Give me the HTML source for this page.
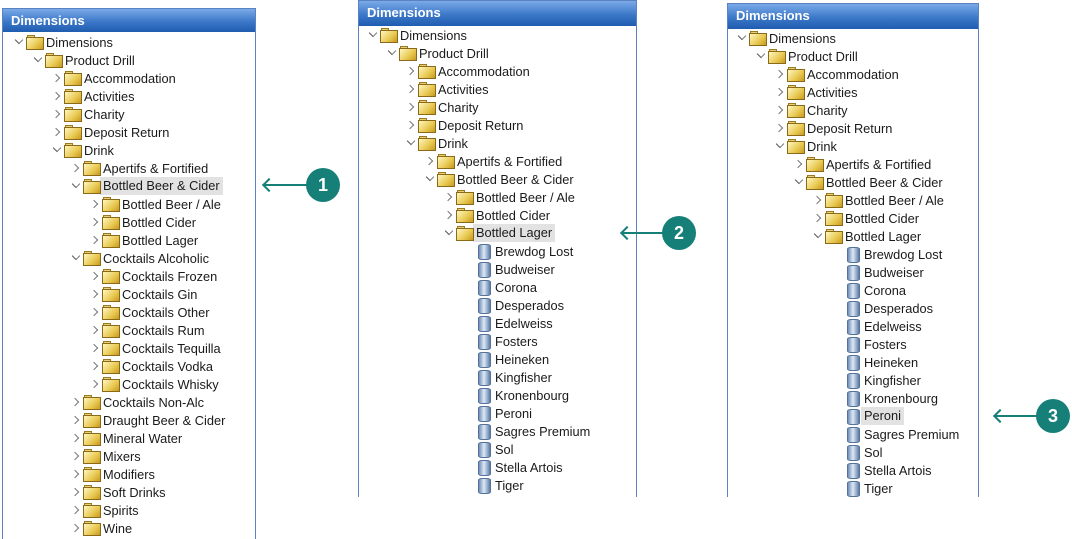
<!DOCTYPE html>
<html style="height:539px;overflow:hidden"><head><meta charset="utf-8"><style>
*{margin:0;padding:0;box-sizing:border-box}
body{width:1072px;height:539px;background:#fff;position:relative;overflow:hidden;font-family:"Liberation Sans",sans-serif}
.p{position:absolute;border:1px solid #5a82c0;background:#fff}
.h{height:100%;background:linear-gradient(#7aaae8,#3c78c8 55%,#1f5cb0);color:#fff;font-weight:bold;font-size:13px;padding-left:8px}
.c{position:absolute;left:0;top:0;width:100%;height:100%}
.r{position:absolute;height:18px;display:flex;align-items:center;font-size:12.8px;color:#1a1a1a;white-space:nowrap}
.r i{display:block;flex:none;position:relative}
.x{width:14px;height:18px}
.x:after{content:"";position:absolute;width:5px;height:5px;left:3px;top:6px;border-right:1.4px solid #777;border-top:1.4px solid #777;transform:rotate(45deg)}
.x.o:after{border-top:none;border-bottom:1.4px solid #555;transform:rotate(45deg);top:4px;left:4px}
.x.n:after{display:none}
.f{width:16px;height:18px;margin-right:4px}
.f:before{content:"";position:absolute;left:1px;top:2px;width:6px;height:3px;background:#e8d070;border:1px solid #9a7a20;border-bottom:none}
.f:after{content:"";position:absolute;left:0;top:4px;width:16px;height:11px;background:linear-gradient(135deg,#fff6c0,#e8c850 60%,#c89a20);border:1px solid #8a6a18}
.b{width:16px;height:18px;margin-right:4px}
.b:after{content:"";position:absolute;left:3px;top:2px;width:11px;height:14px;border-radius:4px/2px;background:linear-gradient(90deg,#6f8fb8,#dfe8f5 45%,#8aa6c8 80%,#5d7ba3);border:1px solid #56729a}
.hl{background:#e2e2e2;padding:0 3px;margin-left:-3px;line-height:18px}
.l0{left:12px}.l1{left:31px}.l2{left:50px}.l3{left:69px}.l4{left:88px}.l5{left:107px}
.ar{position:absolute;height:2px;background:#157f78}
.ah{position:absolute;width:10px;height:10px;border-left:2px solid #157f78;border-bottom:2px solid #157f78;transform:rotate(45deg)}
.ci{position:absolute;width:34px;height:34px;border-radius:50%;background:#157f78;color:#fff;font-weight:bold;font-size:18px;text-align:center;line-height:34px}
</style></head><body>

<div class="p" style="left:2px;top:8px;width:254px;height:531px;border-bottom:none"><div class="h" style="height:23px;line-height:23px">Dimensions</div></div>
<div class="p" style="left:358px;top:0;width:279px;height:497px;border-bottom:none"><div class="h" style="height:25px;line-height:24px">Dimensions</div></div>
<div class="p" style="left:727px;top:3px;width:252px;height:494px;border-bottom:none"><div class="h" style="height:25px;line-height:24px">Dimensions</div></div>

<div class="c" style="left:0;top:0">
<div class="r l0" style="top:33px"><i class="x o"></i><i class="f"></i>Dimensions</div>
<div class="r l1" style="top:51px"><i class="x o"></i><i class="f"></i>Product Drill</div>
<div class="r l2" style="top:69px"><i class="x"></i><i class="f"></i>Accommodation</div>
<div class="r l2" style="top:87px"><i class="x"></i><i class="f"></i>Activities</div>
<div class="r l2" style="top:105px"><i class="x"></i><i class="f"></i>Charity</div>
<div class="r l2" style="top:123px"><i class="x"></i><i class="f"></i>Deposit Return</div>
<div class="r l2" style="top:141px"><i class="x o"></i><i class="f"></i>Drink</div>
<div class="r l3" style="top:159px"><i class="x"></i><i class="f"></i>Apertifs &amp; Fortified</div>
<div class="r l3" style="top:177px"><i class="x o"></i><i class="f"></i><span class="hl">Bottled Beer &amp; Cider</span></div>
<div class="r l4" style="top:195px"><i class="x"></i><i class="f"></i>Bottled Beer / Ale</div>
<div class="r l4" style="top:213px"><i class="x"></i><i class="f"></i>Bottled Cider</div>
<div class="r l4" style="top:231px"><i class="x"></i><i class="f"></i>Bottled Lager</div>
<div class="r l3" style="top:249px"><i class="x o"></i><i class="f"></i>Cocktails Alcoholic</div>
<div class="r l4" style="top:267px"><i class="x"></i><i class="f"></i>Cocktails Frozen</div>
<div class="r l4" style="top:285px"><i class="x"></i><i class="f"></i>Cocktails Gin</div>
<div class="r l4" style="top:303px"><i class="x"></i><i class="f"></i>Cocktails Other</div>
<div class="r l4" style="top:321px"><i class="x"></i><i class="f"></i>Cocktails Rum</div>
<div class="r l4" style="top:339px"><i class="x"></i><i class="f"></i>Cocktails Tequilla</div>
<div class="r l4" style="top:357px"><i class="x"></i><i class="f"></i>Cocktails Vodka</div>
<div class="r l4" style="top:375px"><i class="x"></i><i class="f"></i>Cocktails Whisky</div>
<div class="r l3" style="top:393px"><i class="x"></i><i class="f"></i>Cocktails Non-Alc</div>
<div class="r l3" style="top:411px"><i class="x"></i><i class="f"></i>Draught Beer &amp; Cider</div>
<div class="r l3" style="top:429px"><i class="x"></i><i class="f"></i>Mineral Water</div>
<div class="r l3" style="top:447px"><i class="x"></i><i class="f"></i>Mixers</div>
<div class="r l3" style="top:465px"><i class="x"></i><i class="f"></i>Modifiers</div>
<div class="r l3" style="top:483px"><i class="x"></i><i class="f"></i>Soft Drinks</div>
<div class="r l3" style="top:501px"><i class="x"></i><i class="f"></i>Spirits</div>
<div class="r l3" style="top:519px"><i class="x"></i><i class="f"></i>Wine</div>
</div>

<div class="c" style="left:354px;top:-7px">
<div class="r l0" style="top:33px"><i class="x o"></i><i class="f"></i>Dimensions</div>
<div class="r l1" style="top:51px"><i class="x o"></i><i class="f"></i>Product Drill</div>
<div class="r l2" style="top:69px"><i class="x"></i><i class="f"></i>Accommodation</div>
<div class="r l2" style="top:87px"><i class="x"></i><i class="f"></i>Activities</div>
<div class="r l2" style="top:105px"><i class="x"></i><i class="f"></i>Charity</div>
<div class="r l2" style="top:123px"><i class="x"></i><i class="f"></i>Deposit Return</div>
<div class="r l2" style="top:141px"><i class="x o"></i><i class="f"></i>Drink</div>
<div class="r l3" style="top:159px"><i class="x"></i><i class="f"></i>Apertifs &amp; Fortified</div>
<div class="r l3" style="top:177px"><i class="x o"></i><i class="f"></i>Bottled Beer &amp; Cider</div>
<div class="r l4" style="top:195px"><i class="x"></i><i class="f"></i>Bottled Beer / Ale</div>
<div class="r l4" style="top:213px"><i class="x"></i><i class="f"></i>Bottled Cider</div>
<div class="r l4" style="top:231px"><i class="x o"></i><i class="f"></i><span class="hl">Bottled Lager</span></div>
<div class="r l5" style="top:249px"><i class="x n"></i><i class="b"></i>Brewdog Lost</div>
<div class="r l5" style="top:267px"><i class="x n"></i><i class="b"></i>Budweiser</div>
<div class="r l5" style="top:285px"><i class="x n"></i><i class="b"></i>Corona</div>
<div class="r l5" style="top:303px"><i class="x n"></i><i class="b"></i>Desperados</div>
<div class="r l5" style="top:321px"><i class="x n"></i><i class="b"></i>Edelweiss</div>
<div class="r l5" style="top:339px"><i class="x n"></i><i class="b"></i>Fosters</div>
<div class="r l5" style="top:357px"><i class="x n"></i><i class="b"></i>Heineken</div>
<div class="r l5" style="top:375px"><i class="x n"></i><i class="b"></i>Kingfisher</div>
<div class="r l5" style="top:393px"><i class="x n"></i><i class="b"></i>Kronenbourg</div>
<div class="r l5" style="top:411px"><i class="x n"></i><i class="b"></i>Peroni</div>
<div class="r l5" style="top:429px"><i class="x n"></i><i class="b"></i>Sagres Premium</div>
<div class="r l5" style="top:447px"><i class="x n"></i><i class="b"></i>Sol</div>
<div class="r l5" style="top:465px"><i class="x n"></i><i class="b"></i>Stella Artois</div>
<div class="r l5" style="top:483px"><i class="x n"></i><i class="b"></i>Tiger</div>
</div>

<div class="c" style="left:723px;top:-4px">
<div class="r l0" style="top:33px"><i class="x o"></i><i class="f"></i>Dimensions</div>
<div class="r l1" style="top:51px"><i class="x o"></i><i class="f"></i>Product Drill</div>
<div class="r l2" style="top:69px"><i class="x"></i><i class="f"></i>Accommodation</div>
<div class="r l2" style="top:87px"><i class="x"></i><i class="f"></i>Activities</div>
<div class="r l2" style="top:105px"><i class="x"></i><i class="f"></i>Charity</div>
<div class="r l2" style="top:123px"><i class="x"></i><i class="f"></i>Deposit Return</div>
<div class="r l2" style="top:141px"><i class="x o"></i><i class="f"></i>Drink</div>
<div class="r l3" style="top:159px"><i class="x"></i><i class="f"></i>Apertifs &amp; Fortified</div>
<div class="r l3" style="top:177px"><i class="x o"></i><i class="f"></i>Bottled Beer &amp; Cider</div>
<div class="r l4" style="top:195px"><i class="x"></i><i class="f"></i>Bottled Beer / Ale</div>
<div class="r l4" style="top:213px"><i class="x"></i><i class="f"></i>Bottled Cider</div>
<div class="r l4" style="top:231px"><i class="x o"></i><i class="f"></i>Bottled Lager</div>
<div class="r l5" style="top:249px"><i class="x n"></i><i class="b"></i>Brewdog Lost</div>
<div class="r l5" style="top:267px"><i class="x n"></i><i class="b"></i>Budweiser</div>
<div class="r l5" style="top:285px"><i class="x n"></i><i class="b"></i>Corona</div>
<div class="r l5" style="top:303px"><i class="x n"></i><i class="b"></i>Desperados</div>
<div class="r l5" style="top:321px"><i class="x n"></i><i class="b"></i>Edelweiss</div>
<div class="r l5" style="top:339px"><i class="x n"></i><i class="b"></i>Fosters</div>
<div class="r l5" style="top:357px"><i class="x n"></i><i class="b"></i>Heineken</div>
<div class="r l5" style="top:375px"><i class="x n"></i><i class="b"></i>Kingfisher</div>
<div class="r l5" style="top:393px"><i class="x n"></i><i class="b"></i>Kronenbourg</div>
<div class="r l5" style="top:411px"><i class="x n"></i><i class="b"></i><span class="hl">Peroni</span></div>
<div class="r l5" style="top:429px"><i class="x n"></i><i class="b"></i>Sagres Premium</div>
<div class="r l5" style="top:447px"><i class="x n"></i><i class="b"></i>Sol</div>
<div class="r l5" style="top:465px"><i class="x n"></i><i class="b"></i>Stella Artois</div>
<div class="r l5" style="top:483px"><i class="x n"></i><i class="b"></i>Tiger</div>
</div>

<div class="ar" style="left:263px;top:184px;width:44px"></div><div class="ah" style="left:264px;top:180px"></div>
<div class="ci" style="left:306px;top:168px">1</div>
<div class="ar" style="left:621px;top:232px;width:44px"></div><div class="ah" style="left:622px;top:228px"></div>
<div class="ci" style="left:662px;top:216px">2</div>
<div class="ar" style="left:994px;top:415px;width:44px"></div><div class="ah" style="left:995px;top:411px"></div>
<div class="ci" style="left:1036px;top:399px">3</div>
</body></html>
